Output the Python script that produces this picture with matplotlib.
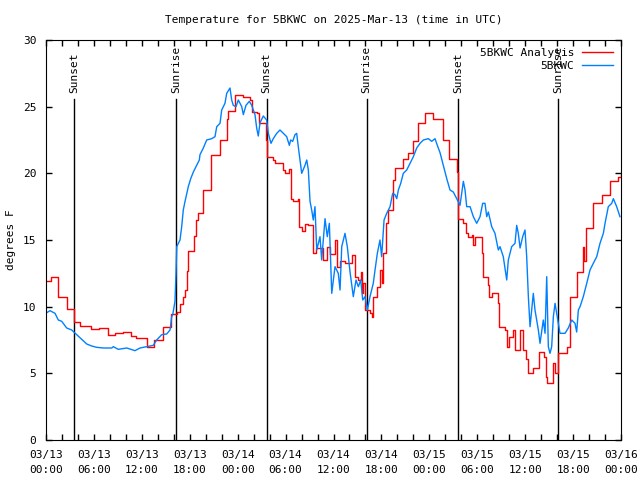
import numpy as np
import matplotlib
matplotlib.use("Agg")
import matplotlib.pyplot as plt

plt.rcParams['font.family'] = ['DejaVu Sans Mono']

# hours since 03/13 00:00 UTC
red_h = [0.0, 0.63, 1.54, 2.59, 3.54, 4.26, 5.63, 6.67, 7.73, 8.64, 9.68, 10.61, 11.23,
         12.61, 13.56, 14.69, 15.65, 16.37, 16.78, 17.19, 17.41, 17.62, 17.74, 18.57, 18.75,
         19.0, 19.62, 19.70, 20.66, 21.79, 22.63, 22.83, 23.67, 24.63, 25.55, 25.76, 26.38,
         26.67, 27.57, 27.63, 28.39, 28.68, 29.64, 29.93, 30.47, 30.68, 30.97, 31.59, 31.72,
         32.02, 32.43, 32.85, 33.40, 33.81, 34.72, 35.15, 35.56, 36.19, 36.40, 36.82, 37.44,
         38.28, 38.69, 39.11, 39.41, 39.53, 39.7, 39.95, 40.57, 40.78, 40.98, 41.41, 41.82,
         42.03, 42.24, 42.54, 42.86, 43.49, 43.70, 44.74, 45.37, 46.0, 46.62, 47.46, 48.50,
         49.68, 50.50, 51.43, 51.63, 52.26, 52.59, 52.88, 53.31, 53.51, 53.72, 54.56, 54.76,
         55.39, 55.51, 55.81, 56.64, 56.76, 57.48, 57.69, 58.01, 58.44, 58.73, 59.36, 59.69,
         60.11, 60.40, 61.02, 61.77, 62.36, 62.61, 62.77, 63.53, 63.74, 64.15, 65.20, 65.61,
         66.53, 67.28, 67.41, 67.62, 68.53, 69.66, 70.63, 71.67, 72.0]
red_t = [11.9, 12.2, 10.7, 9.8, 8.85, 8.55, 8.3, 8.4, 7.9, 8.0, 8.1, 7.8, 7.65,
         7.0, 7.5, 8.5, 9.45, 9.6, 10.2, 10.75, 11.25, 12.7, 14.2, 15.3, 16.5,
         17.0, 17.9, 18.75, 21.4, 22.5, 24.05, 24.7, 25.9, 25.7, 25.5, 24.6, 24.5,
         23.75, 22.5, 21.25, 21.0, 20.75, 20.25, 20.0, 20.3, 18.1, 17.9, 18.1, 16.0,
         15.7, 16.2, 16.1, 14.0, 14.4, 13.5, 14.5, 13.95, 15.0, 13.0, 13.4, 13.25,
         13.9, 12.25, 12.0, 12.6, 11.0, 11.75, 9.75, 9.5, 9.25, 10.75, 11.5, 12.75,
         11.75, 14.0, 16.25, 17.25, 19.5, 20.4, 21.1, 21.5, 22.4, 23.75, 24.5, 24.1,
         22.5, 21.1, 20.1, 16.6, 16.25, 15.5, 15.25, 15.4, 14.6, 15.2, 14.0, 12.25,
         11.6, 10.75, 11.0, 10.25, 8.5, 8.25, 7.0, 7.75, 8.25, 6.75, 8.25, 6.75,
         6.1, 5.0, 5.4, 6.6, 6.25, 4.75, 4.25, 5.75, 5.0, 6.5, 7.0, 10.75,
         12.6, 14.5, 13.4, 15.9, 17.75, 18.4, 19.4, 19.75, 19.9]

blue_h = [0.09, 0.50, 1.13, 1.54, 1.97, 2.59, 3.22, 3.84, 4.47, 5.10, 5.72, 6.35, 7.18,
          8.23, 8.43, 9.05, 10.11, 11.14, 11.77, 12.61, 13.44, 13.86, 14.49, 15.11, 15.53,
          15.74, 15.87, 16.15, 16.28, 16.37, 16.78, 16.99, 17.19, 17.41, 17.82, 18.12, 18.45,
          18.87, 19.20, 19.28, 19.70, 20.12, 20.75, 21.16, 21.38, 21.79, 22.0, 22.41, 22.63,
          23.04, 23.25, 23.45, 23.79, 24.08, 24.51, 24.71, 25.04, 25.46, 25.76, 26.17, 26.38,
          26.58, 26.80, 27.21, 27.63, 27.84, 28.17, 28.46, 28.89, 29.30, 29.72, 30.14, 30.47,
          30.64, 30.89, 31.18, 31.39, 31.59, 31.81, 32.02, 32.43, 32.65, 32.85, 33.06, 33.27,
          33.47, 33.68, 33.90, 34.31, 34.52, 34.94, 35.22, 35.48, 35.78, 36.19, 36.60, 36.82,
          37.03, 37.44, 37.73, 38.07, 38.48, 38.82, 39.11, 39.41, 39.66, 39.95, 40.24, 40.57,
          40.98, 41.20, 41.49, 41.82, 42.03, 42.33, 42.66, 43.08, 43.41, 43.70, 43.92, 44.12,
          44.42, 44.74, 45.17, 45.58, 46.0, 46.42, 46.83, 47.25, 47.87, 48.30, 48.71, 49.0,
          49.34, 49.75, 50.18, 50.59, 51.0, 51.43, 51.84, 52.26, 52.47, 52.68, 53.10, 53.51,
          53.93, 54.35, 54.68, 54.97, 55.19, 55.39, 55.81, 56.22, 56.64, 56.85, 57.26, 57.69,
          57.89, 58.31, 58.73, 58.94, 59.14, 59.36, 59.69, 59.98, 60.19, 60.40, 60.61, 61.02,
          61.23, 61.65, 61.86, 62.27, 62.49, 62.70, 62.90, 63.11, 63.32, 63.53, 63.74, 63.95,
          64.36, 64.99, 65.40, 65.83, 66.24, 66.45, 66.66, 66.87, 67.28, 67.71, 68.12, 68.53,
          68.96, 69.37, 69.79, 70.0, 70.41, 70.84, 71.04, 71.46, 71.87]
blue_t = [9.55, 9.7, 9.5, 9.0, 8.9, 8.4, 8.25, 7.9, 7.55, 7.2, 7.05, 6.95, 6.9,
          6.9, 7.0, 6.8, 6.9, 6.7, 6.9, 7.0, 7.1, 7.5, 7.9, 7.95, 8.25,
          9.25, 9.4, 10.4, 12.5, 14.5, 15.0, 16.0, 17.25, 17.9, 19.0, 19.6, 20.1,
          20.6, 21.0, 21.4, 21.9, 22.5, 22.6, 22.75, 23.5, 23.75, 24.75, 25.25, 26.0,
          26.4, 25.5, 25.1, 25.0, 25.5, 25.0, 24.4, 25.1, 25.4, 25.1, 24.4, 23.4,
          22.8, 23.8, 24.3, 24.0, 23.0, 22.25, 22.6, 23.0, 23.25, 23.0, 22.75, 22.1,
          22.5, 22.4, 22.9, 23.0, 22.0, 21.0, 20.0, 20.6, 21.0, 20.25, 17.9, 17.25,
          16.5, 17.5, 14.25, 15.25, 13.5, 16.6, 15.25, 16.25, 11.0, 13.0, 12.5, 11.25,
          14.5, 15.5, 14.5, 12.6, 10.75, 12.0, 11.5, 12.0, 10.5, 10.75, 9.75, 10.75,
          11.75, 12.75, 14.0, 15.0, 13.75, 16.5, 17.0, 17.5, 18.5, 18.4, 18.1, 18.75,
          19.25, 20.0, 20.25, 20.75, 21.25, 21.9, 22.25, 22.5, 22.6, 22.4, 22.6, 22.1,
          21.55, 20.6, 19.6, 18.75, 18.6, 18.1, 17.6, 19.4, 18.75, 17.5, 17.5, 16.75,
          16.25, 16.75, 17.75, 17.75, 16.75, 17.1, 16.0, 15.5, 14.25, 14.5, 13.75, 12.0,
          13.5, 14.5, 14.75, 16.1, 15.5, 14.4, 15.25, 15.75, 13.75, 10.75, 8.5, 11.0,
          9.75, 8.25, 7.25, 9.0, 8.0, 12.25, 7.0, 6.5, 7.0, 9.25, 10.25, 9.5,
          8.0, 8.0, 8.4, 9.0, 8.75, 8.1, 9.75, 10.0, 10.75, 11.75, 12.75, 13.25,
          13.75, 14.75, 15.5, 16.25, 17.5, 17.75, 18.1, 17.5, 16.75]

sun_h = [3.55, 16.28, 27.63, 40.16, 51.63, 64.15]
sun_lbl = ['Sunset', 'Sunrise', 'Sunset', 'Sunrise', 'Sunset', 'Sunrise']

tick_h = list(range(0, 73, 6))
tick_lbl = ['03/13\n00:00', '03/13\n06:00', '03/13\n12:00', '03/13\n18:00',
            '03/14\n00:00', '03/14\n06:00', '03/14\n12:00', '03/14\n18:00',
            '03/15\n00:00', '03/15\n06:00', '03/15\n12:00', '03/15\n18:00',
            '03/16\n00:00']

fig = plt.figure(figsize=(6.4, 4.8), dpi=100)
ax = fig.add_axes([46/640, 40/480, 575/640, 400/480])

for h, s in zip(sun_h, sun_lbl):
    ax.plot([h, h], [0, 25.6], color='black', lw=1)
    ax.text(h, 26.0, s, rotation=90, ha='center', va='bottom', fontsize=8)

ax.plot(red_h, red_t, color='#ff0000', lw=1, drawstyle='steps-post', label='5BKWC Analysis')
ax.plot(blue_h, blue_t, color='#0080ff', lw=1, label='5BKWC')

ax.set_xlim(0, 72)
ax.set_ylim(0, 30)
ax.set_xticks(tick_h)
ax.set_xticklabels(tick_lbl, fontsize=8, linespacing=1.7)
ax.set_xticks(list(range(0, 73, 2)), minor=True)
ax.set_yticks(range(0, 31, 5))
ax.tick_params(axis='y', labelsize=8, pad=7)
ax.tick_params(axis='x', pad=7)
ax.tick_params(which='both', direction='in', top=True, right=True, length=4, width=1)
fig.text(11/640, 0.5, 'degrees F', rotation=90, ha='center', va='center', fontsize=8)
ax.set_title('Temperature for 5BKWC on 2025-Mar-13 (time in UTC)', fontsize=8, pad=12)

ax.legend(loc='upper right', frameon=False, markerfirst=False, fontsize=8,
          handlelength=2.8, borderaxespad=0.3, labelspacing=0.25, handletextpad=0.7)

fig.savefig('out.png', dpi=100)
